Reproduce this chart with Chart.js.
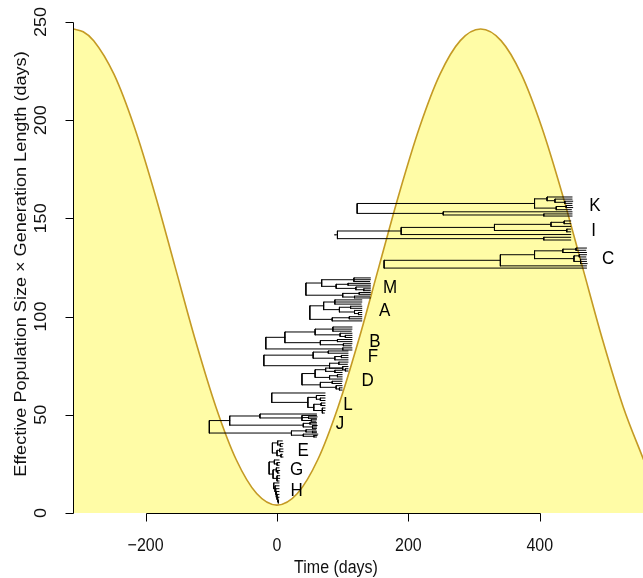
<!DOCTYPE html>
<html>
<head>
<meta charset="utf-8">
<script src="https://cdn.jsdelivr.net/npm/chart.js@4/dist/chart.umd.min.js"></script>
<style>
  html, body { margin: 0; padding: 0; background: #ffffff; }
  #wrap { width: 643px; height: 578px; }
</style>
</head>
<body>
<div id="wrap"><canvas id="chart" width="643" height="578"></canvas></div>
<script>
// Seasonal effective population size x generation length (days)
const curveTime = [-310, -295, -279, -248, -217, -186, -155, -124, -93, -62, -31, 0, 31, 62, 93, 124,
                   155, 186, 217, 248, 279, 310, 341, 372, 403, 434, 465, 496, 527, 558];
const curveNe   = [246.4, 245.0, 240.5, 223.3, 196.4, 162.7, 125.2, 87.7, 54.0, 27.1, 9.9, 4.0, 9.9, 27.1, 54.0, 87.7,
                   125.2, 162.7, 196.4, 223.3, 240.5, 246.4, 240.5, 223.3, 196.4, 162.7, 125.2, 87.7, 54.0, 27.1];

const xTicks = [-200, 0, 200, 400];
const yTicks = [0, 50, 100, 150, 200, 250];

// Clades: name, Ne span of their tips, and where the letter sits (time, Ne)
const cladeNames     = ['K', 'I', 'C', 'M', 'A', 'B', 'F', 'D', 'L', 'J', 'E', 'G', 'H'];
const cladeTopNe     = [160.9, 148.7, 134.9, 119.7, 108.5, 94.7, 82.5, 73.8, 61.1, 50.4, 36.7, 27.0, 15.3];
const cladeBottomNe  = [151.2, 139.0, 124.7, 109.5, 97.8, 83.0, 72.3, 62.6, 50.9, 38.7, 28.5, 16.3, 5.1];
const cladeLabelTime = [484, 482, 504, 172, 164, 149, 146, 138, 108, 96, 40, 30, 30];
const cladeLabelNe   = [156.3, 143.6, 129.3, 114.6, 102.9, 87.1, 79.4, 67.2, 55.0, 45.3, 31.6, 21.9, 11.2];

// Genealogies: an internal node is [node time, ...children]; a tip is its sampling time (days)
const treeK = [122,
  [392, [411, 449, [423, 449, [438, 450, 449]]], [425, [440, 449, 450], 448]],
  [253, 449, [406, 449, 449]]];
const treeI = [88, [92,
  [189, [331, [417, [437, 447, 447], 447], [441, 447, 447]], 447],
  [406, 447, 447]]];
const treeC = [163,
  [340, [392, [435, [455, 471, 470], 471], [452, [460, 471, 470], [462, 471, 471, 472]]], 471],
  471];
const treeM = [44,
  [68, [117, 142, 142, 141], [90, [108, 142, 142], [120, 142, [132, 142, 142]]]],
  [100, [125, 142, 142], [118, 141, 142]]];
const treeA = [50,
  [71, [88, 129, 129, 128], [95, [112, 129, 129], [118, 129, [124, 129, 129]]]],
  [84, [110, 129, 129], 129]];
const treeB = [-17,
  [12, [58, [85, 114, 114, 113], [96, 114, [104, 114, 114]]], [66, [92, 114, 114], [101, 114, 113]]],
  [100, 114, 114]];
const treeF = [-20,
  [55, [78, 108, 108], [88, [98, 108, 108], 108]],
  [80, [94, 108, 107], [100, 108, [104, 108, 108]]]];
const treeD = [38,
  [58, [74, 99, [88, 99, 99]], [80, [92, 99, 99], 99]],
  [66, [84, 99, 98], [90, 99, [95, 99, 99]]]];
const treeL = [-8, 73,
  [47, [60, 73, [66, 73, 73]], [56, [67, 73, 73], [69, 73, 73, 72]]]];
const treeJ = [-103,
  [-72, [-26, 60, [38, 60, [48, 61, 60], [52, 60, 59]]], [40, [50, 60, 60], [54, 61, 60, 60]]],
  [22, [44, 59, [54, 60, 60]], [40, 62, [56, 61, 60]]]];
const treeE = [-7, [1, 8, [5, 9, 8]], [0, [4, 9, 9], [6, 8, 9]]];
const treeG = [-12, [-4, 3, [0, 4, 3]], [-6, [-1, 3, [1, 4, 3]], [0, 4, 4, 3]]];
const treeH = [-5, 3, [-3, 3, [-2, 3, [-1, 3, [0, 3, [1, 3, [2, 3, 3]]]]]]];

const cladeTrees = [treeK, treeI, treeC, treeM, treeA, treeB, treeF, treeD, treeL, treeJ, treeE, treeG, treeH];

// Rectangular phylogram: tips evenly spaced between top and bottom Ne,
// each node at the midpoint of its first and last child.
function treeSegments(tree, topNe, bottomNe) {
  const countTips = n => typeof n === 'number' ? 1 : n.slice(1).reduce((s, c) => s + countTips(c), 0);
  const nTips = countTips(tree);
  const step = nTips > 1 ? (topNe - bottomNe) / (nTips - 1) : 0;
  const pts = [];
  let tip = 0;
  const seg = (xa, ya, xb, yb) => { pts.push({ x: xa, y: ya }, { x: xb, y: yb }, { x: xb, y: null }); };
  function place(node, parentTime) {
    if (typeof node === 'number') {
      const y = topNe - step * tip++;
      if (parentTime !== null) seg(parentTime, y, node, y);
      return y;
    }
    const t = node[0];
    const ys = node.slice(1).map(c => place(c, t));
    const y0 = ys[0], y1 = ys[ys.length - 1];
    seg(t, y0, t, y1);
    const y = (y0 + y1) / 2;
    if (parentTime !== null) seg(parentTime, y, t, y);
    return y;
  }
  place(tree, null);
  return pts;
}

const FONT = '"Liberation Sans", Arial, Helvetica, sans-serif';
const TEXT_STRETCH = 1.13;   // glyphs are a little taller than they are wide

const treeDatasets = cladeTrees.map((tree, i) => ({
  label: 'Clade ' + cladeNames[i],
  data: treeSegments(tree, cladeTopNe[i], cladeBottomNe[i]),
  borderColor: '#000000',
  borderWidth: 1,
  borderCapStyle: 'square',
  pointRadius: 0,
  spanGaps: false,
  tension: 0,
  fill: false
}));

const curveDataset = {
  label: 'Ne x g',
  data: curveTime.map((t, i) => ({ x: t, y: curveNe[i] })),
  borderColor: 'rgb(196,154,36)',
  borderWidth: 1.6,
  backgroundColor: 'rgb(255,252,166)',
  fill: 'origin',
  pointRadius: 0,
  cubicInterpolationMode: 'monotone'
};

function uprightText(ctx, text, x, y) {
  ctx.save();
  ctx.translate(x, y);
  ctx.scale(1, TEXT_STRETCH);
  ctx.fillText(text, 0, 0);
  ctx.restore();
}

function sidewaysText(ctx, text, x, y) {
  ctx.save();
  ctx.translate(x, y);
  ctx.rotate(-Math.PI / 2);
  ctx.scale(TEXT_STRETCH, 1);
  ctx.fillText(text, 0, 0);
  ctx.restore();
}

const fmt = v => (v < 0 ? '\u2212' : '') + Math.abs(v);

// Axes in base-graphics style: lines span the tick range only, rotated y labels
const axesPlugin = {
  id: 'baseAxes',
  afterDraw(chart) {
    const { ctx, chartArea, scales } = chart;
    const xs = scales.x, ys = scales.y;
    ctx.save();
    ctx.strokeStyle = '#000';
    ctx.fillStyle = '#111';
    ctx.lineWidth = 1;

    // x axis
    const ay = Math.round(chartArea.bottom) + 0.5;
    ctx.beginPath();
    ctx.moveTo(Math.round(xs.getPixelForValue(xTicks[0])) + 0.5, ay);
    ctx.lineTo(Math.round(xs.getPixelForValue(xTicks[xTicks.length - 1])) + 0.5, ay);
    xTicks.forEach(v => {
      const px = Math.round(xs.getPixelForValue(v)) + 0.5;
      ctx.moveTo(px, ay);
      ctx.lineTo(px, ay + 8);
    });
    ctx.stroke();
    ctx.font = '16px ' + FONT;
    ctx.textAlign = 'center';
    ctx.textBaseline = 'middle';
    xTicks.forEach(v => uprightText(ctx, fmt(v), xs.getPixelForValue(v), ay + 33));
    uprightText(ctx, 'Time (days)', 336, ay + 55);

    // y axis
    const ax = Math.round(chartArea.left) + 0.5;
    ctx.beginPath();
    ctx.moveTo(ax, Math.round(ys.getPixelForValue(yTicks[0])) + 0.5);
    ctx.lineTo(ax, Math.round(ys.getPixelForValue(yTicks[yTicks.length - 1])) + 0.5);
    yTicks.forEach(v => {
      const py = Math.round(ys.getPixelForValue(v)) + 0.5;
      ctx.moveTo(ax - 8, py);
      ctx.lineTo(ax, py);
    });
    ctx.stroke();
    yTicks.forEach(v => sidewaysText(ctx, fmt(v), ax - 32, ys.getPixelForValue(v)));
    sidewaysText(ctx, 'Effective Population Size \u00d7 Generation Length (days)', 22, 264);

    // clade letters
    ctx.font = '17px ' + FONT;
    ctx.fillStyle = '#000';
    cladeNames.forEach((n, i) => {
      uprightText(ctx, n, xs.getPixelForValue(cladeLabelTime[i]), ys.getPixelForValue(cladeLabelNe[i]));
    });
    ctx.restore();
  }
};

new Chart(document.getElementById('chart'), {
  type: 'line',
  data: { datasets: [...treeDatasets, curveDataset] },
  options: {
    responsive: false,
    animation: false,
    devicePixelRatio: 1,
    layout: { padding: { left: 73, right: 0, top: 22, bottom: 65 } },
    scales: {
      x: { type: 'linear', min: -310.5, max: 557.1, display: false },
      y: { type: 'linear', min: 0, max: 250, display: false }
    },
    plugins: {
      legend: { display: false },
      tooltip: { enabled: false }
    }
  },
  plugins: [axesPlugin]
});
</script>
</body>
</html>
